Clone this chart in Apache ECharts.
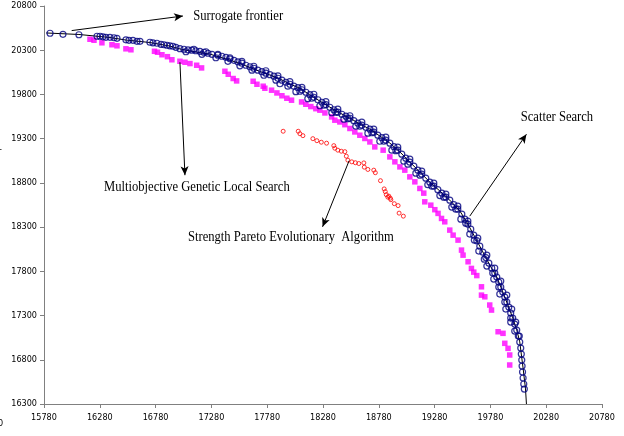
<!DOCTYPE html>
<html>
<head>
<meta charset="utf-8">
<script src="https://cdn.jsdelivr.net/npm/echarts@6/dist/echarts.min.js"></script>
<style>
  html, body { margin: 0; padding: 0; background: #ffffff; }
  #chart { width: 624px; height: 436px; }
</style>
</head>
<body>
<div id="chart"></div>
<script>
// Axis tick values
const xTicks = [15780, 16280, 16780, 17280, 17780, 18280, 18780, 19280, 19780, 20280, 20780];
const yTicks = [16300, 16800, 17300, 17800, 18300, 18800, 19300, 19800, 20300, 20800];

// Scatter Search solutions (objective 1, objective 2)
const scatterSearch = [
  [15834,20492],[15950,20480],[16093,20475],
  [16255,20458],[16282,20458],[16308,20452],[16335,20446],[16371,20446],[16407,20441],[16434,20435],
  [16514,20418],[16541,20412],[16577,20412],[16613,20401],[16640,20401],
  [16729,20390],[16756,20384],[16792,20379],[16828,20367],[16855,20362],[16882,20356],[16908,20350],[16935,20345],[16962,20333],
  [16998,20317],[17034,20311],[17070,20305],[17105,20300],[17141,20294],[17177,20288],[17213,20277],[17249,20266],[17285,20254],
  [17338,20243],[17374,20232],[17410,20220],[17446,20203],[17482,20186],[17517,20169],[17553,20153],[17589,20130],[17625,20113],
  [17660,20096],[17696,20074],[17732,20057],[17768,20040],[17804,20023],[17840,20006],[17876,19983],[17912,19961],[17947,19938],
  [17983,19915],[18019,19893],[18055,19876],[18091,19853],[18127,19825],[18162,19797],[18198,19768],[18234,19740],[18270,19712],
  [18306,19684],[18341,19655],[18377,19627],[18413,19599],[18449,19576],[18485,19554],[18521,19531],[18556,19503],[18592,19475],
  [18628,19452],[18664,19429],[18700,19407],[18735,19373],[18771,19339],[18807,19311],[18843,19283],[18879,19249],[18915,19209],
  [18950,19170],[18986,19125],[19022,19079],[19058,19034],[19094,18989],[19130,18944],[19165,18899],[19201,18853],[19237,18808],
  [19273,18763],[19309,18723],[19345,18684],[19381,18639],[19416,18605],[19452,18554],[19488,18503],[19524,18447],[19551,18390],
  [19578,18334],[19604,18277],[19631,18209],[19658,18147],[19685,18085],[19712,18017],[19739,17955],[19766,17893],[19792,17836],
  [19819,17780],[19837,17735],[19855,17678],[19873,17622],[19891,17565],[19909,17509],[19927,17452],[19945,17396],[19962,17328],
  [19980,17272],[19998,17204],[20016,17136],[20030,17068],[20043,17000],[20052,16932],[20057,16865],[20061,16797],[20064,16729],
  [20068,16662],[20073,16594],[20079,16526],[20084,16469],
  [17052,20283],[17195,20254],[17320,20215],[17428,20175],[17535,20124],[17643,20074],[17750,20017],[17858,19961],[17965,19893],
  [18073,19836],[18180,19757],[18288,19678],[18395,19599],[18503,19526],[18610,19441],[18718,19367],[18825,19271],[18933,19164],
  [19040,19012],[19148,18887],[19255,18763],[19362,18639],[19470,18503],[19559,18345],[19636,18153],[19725,17938],[19801,17780],
  [19855,17622],[19909,17452],[19962,17272],[19998,17125],
  [17123,20311],[17231,20283],[17338,20254],[17446,20215],[17553,20175],[17660,20119],[17768,20068],[17876,20011],[17983,19944],
  [18091,19881],[18198,19802],[18306,19718],[18413,19633],[18521,19559],[18628,19486],[18735,19407],[18843,19317],[18950,19204],
  [19058,19068],[19165,18932],[19273,18797],[19381,18673],[19488,18537],[19578,18368],[19667,18175],[19748,17983],[19819,17837],
  [19873,17690],[19927,17531],[19971,17373],[20007,17226],[20039,17068],
  [17894,19921],[18037,19831],[18144,19752],[18252,19672],[18359,19593],[18467,19520],[18574,19441],[18682,19362],[18789,19271],
  [18897,19170],[19004,19045],[19112,18910],[19219,18780],[19327,18656],[19434,18526],[19515,18390],[19595,18221],[19676,18029],
  [19748,17859],[19810,17712],[19864,17543],[19918,17373],[19962,17226]
];

// Multiobjective Genetic Local Search solutions
const mogls = [
  [16192,20424],[16228,20413],[16299,20384],[16389,20362],[16434,20350],[16514,20316],[16559,20305],[16770,20288],[16797,20277],
  [16837,20249],[16886,20227],[16926,20192],[16998,20175],[17043,20164],[17088,20149],[17148,20130],[17192,20100],[17401,20062],
  [17431,20028],[17475,19980],[17506,19953],[17654,19949],[17688,19915],[17744,19893],[17759,19870],[17819,19848],[17867,19817],
  [17912,19785],[17956,19757],[17998,19735],[18088,19715],[18126,19689],[18171,19663],[18216,19639],[18252,19622],[18297,19591],
  [18357,19546],[18386,19509],[18431,19489],[18476,19458],[18521,19415],[18565,19376],[18610,19339],[18655,19302],[18700,19263],
  [18744,19207],[18819,19170],[18879,19094],[18924,19038],[18969,18981],[19013,18944],[19058,18868],[19103,18812],[19148,18737],
  [19183,18684],[19192,18586],[19246,18548],[19282,18497],[19311,18455],[19342,18398],[19371,18360],[19416,18266],[19446,18209],
  [19490,18153],[19521,18040],[19535,17983],[19580,17908],[19610,17833],[19631,17791],[19658,17752],[19700,17625],[19700,17531],
  [19730,17512],[19774,17419],[19790,17362],[19849,17117],[19893,17099],[19909,16986],[19938,16929],[19953,16854],[19953,16741]
];

// Strength Pareto Evolutionary Algorithm solutions
const spea = [
  [17923,19384],[18058,19384],[18073,19356],[18100,19334],[18189,19300],[18225,19277],[18265,19260],[18312,19249],[18377,19221],
  [18386,19192],[18413,19170],[18444,19158],[18476,19153],[18489,19102],[18503,19057],[18538,19038],[18570,19028],[18601,19019],
  [18646,19026],[18650,18978],[18682,18952],[18735,18944],[18749,18915],[18795,18825],[18828,18732],[18838,18701],[18847,18667],
  [18861,18639],[18870,18650],[18883,18627],[18888,18610],[18919,18565],[18953,18543],[18962,18458],[19000,18424]
];

// Surrogate frontier curve
const surrogateFrontier = [
  [15800,20495],[16093,20478],[16255,20458],[16371,20444],[16514,20415],[16640,20399],[16729,20387],[16819,20367],[16908,20347],
  [16998,20315],[17088,20292],[17177,20273],[17267,20256],[17356,20222],[17446,20188],[17535,20150],[17625,20105],[17714,20060],
  [17804,20020],[17894,19975],[17983,19918],[18073,19870],[18162,19795],[18252,19725],[18341,19657],[18431,19590],[18521,19533],
  [18610,19465],[18700,19408],[18789,19330],[18879,19250],[18969,19150],[19058,19036],[19148,18922],[19237,18810],[19327,18708],
  [19416,18605],[19506,18483],[19568,18358],[19640,18190],[19712,18020],[19774,17872],[19837,17737],[19891,17567],[19936,17420],
  [19980,17274],[20016,17138],[20043,17002],[20061,16822],[20075,16684],[20085,16571],[20094,16480],[20103,16300]
];

// Annotation texts (anchor = left edge, vertical middle) and their arrows
const labelTexts = ['Surrogate frontier', 'Multiobjective Genetic Local Search', 'Strength Pareto Evolutionary  Algorithm', 'Scatter Search'];
const labelAnchors = [[17117,20689],[16317,18752],[17070,18190],[20052,19543]];
const arrowStarts = [[16028,20522],[16998,20164],[18514,19051],[19595,18424]];
const arrowEnds = [[17025,20687],[17043,18887],[18276,18303],[20103,19350]];

const chart = echarts.init(document.getElementById('chart'), null, { renderer: 'canvas' });
const tickFont = "'Liberation Sans Narrow', 'Arial Narrow', 'DejaVu Sans Condensed', sans-serif";
const serifFont = "'Liberation Serif', 'Times New Roman', serif";

chart.setOption({
  animation: false,
  grid: { left: 44, right: 22, top: 6, bottom: 32 },
  xAxis: {
    type: 'value', min: 15780, max: 20780,
    axisLine: { show: true, onZero: false, lineStyle: { color: '#808080', width: 1 } },
    axisTick: { show: true, customValues: xTicks, length: 4, lineStyle: { color: '#808080' } },
    axisLabel: { customValues: xTicks, fontSize: 9, color: '#000', fontFamily: tickFont, margin: 9, formatter: v => String(v) },
    splitLine: { show: false }
  },
  yAxis: {
    type: 'value', min: 16300, max: 20800,
    axisLine: { show: true, onZero: false, lineStyle: { color: '#808080', width: 1 } },
    axisTick: { show: true, customValues: yTicks, length: 4, lineStyle: { color: '#808080' } },
    axisLabel: { customValues: yTicks, fontSize: 9, color: '#000', fontFamily: tickFont, margin: 7, formatter: v => String(v) },
    splitLine: { show: false }
  },
  series: [
    {
      name: 'Surrogate frontier', type: 'line', data: surrogateFrontier,
      symbol: 'none', showSymbol: false, silent: true, z: 1,
      lineStyle: { color: '#000', width: 1 }
    },
    {
      name: 'Multiobjective Genetic Local Search', type: 'scatter', data: mogls,
      symbol: 'rect', symbolSize: 5.5, z: 2,
      itemStyle: { color: '#ff00ff' }
    },
    {
      name: 'Strength Pareto Evolutionary Algorithm', type: 'scatter', data: spea,
      symbol: 'circle', symbolSize: 4, z: 2,
      itemStyle: { color: 'rgba(255,255,255,0)', borderColor: '#ff0000', borderWidth: 1 }
    },
    {
      name: 'Scatter Search', type: 'scatter', data: scatterSearch,
      symbol: 'circle', symbolSize: 6, z: 3,
      itemStyle: { color: 'rgba(255,255,255,0)', borderColor: '#000080', borderWidth: 1.2 }
    },
    {
      name: 'arrows', type: 'line', data: [], z: 4,
      markLine: {
        silent: true, animation: false,
        symbol: ['none', 'arrow'], symbolSize: [6, 9],
        label: { show: false },
        lineStyle: { color: '#000', width: 1, type: 'solid' },
        data: arrowStarts.map((s, i) => [{ coord: s }, { coord: arrowEnds[i] }])
      }
    }
  ]
});

// Place annotation texts, horizontally condensed like the typeset figure
const graphics = labelTexts.map((t, i) => {
  const p = chart.convertToPixel({ gridIndex: 0 }, labelAnchors[i]);
  return {
    type: 'text', x: p[0], y: p[1], scaleX: 0.84, z: 10,
    style: { text: t, font: '15px ' + serifFont, fill: '#000', align: 'left', verticalAlign: 'middle' }
  };
});
graphics.push(
  { type: 'text', x: -2, y: 424, style: { text: '0', font: '9px ' + tickFont, fill: '#000', align: 'left', verticalAlign: 'middle' } },
  { type: 'text', x: -1, y: 150, style: { text: '-', font: '9px ' + tickFont, fill: '#000', align: 'left', verticalAlign: 'middle' } }
);
chart.setOption({ graphic: graphics });
</script>
</body>
</html>
